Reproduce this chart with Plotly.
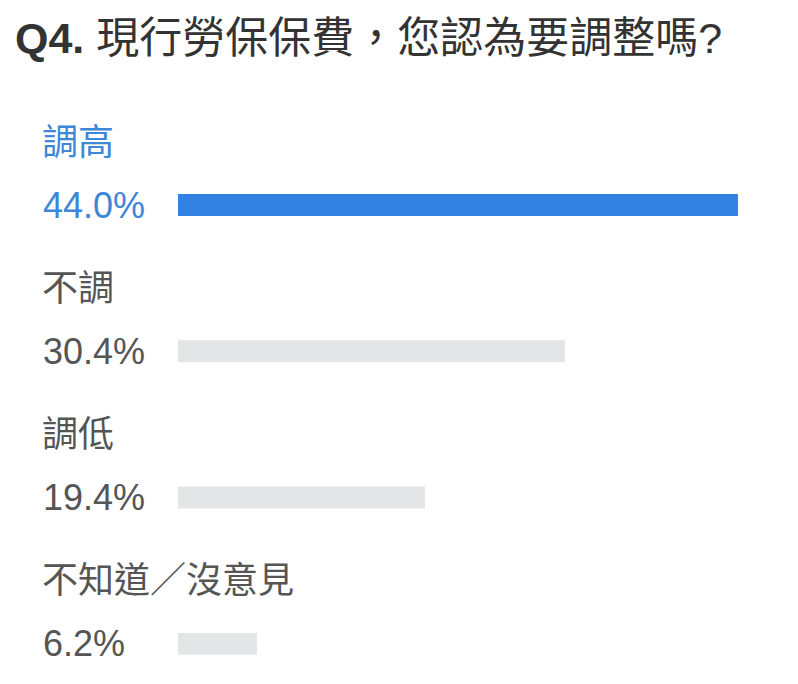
import plotly.graph_objects as go

# données du sondage
categories = ['調高', '不調', '調低', '不知道／沒意見']
values = [44.0, 30.4, 19.4, 6.2]
pct_labels = ['44.0%', '30.4%', '19.4%', '6.2%']
title_text = '<b>Q4.</b> 現行勞保保費，您認為要調整嗎?'

BLUE = '#3381e3'
BLUE_TXT = '#3d86d8'
GREY_BAR = '#e3e5e7'
GREY_TXT = '#555555'
FONT = 'Liberation Sans, Noto Sans CJK TC'

rows = list(range(len(categories)))
bar_colors = [BLUE if i == 0 else GREY_BAR for i in rows]
txt_colors = [BLUE_TXT if i == 0 else GREY_TXT for i in rows]

fig = go.Figure(go.Bar(
    x=values, y=rows, orientation='h',
    marker=dict(color=bar_colors, line=dict(width=0)),
    width=0.15, hoverinfo='skip'
))

# libellés au dessus des barres et pourcentages à gauche
for i in rows:
    fig.add_annotation(x=(32 - 170) / 560, xref='paper', y=i - 0.43, yref='y',
                       text=categories[i], showarrow=False, xanchor='left', yanchor='middle',
                       font=dict(family=FONT, size=36, color=txt_colors[i]))
    fig.add_annotation(x=(33 - 170) / 560, xref='paper', y=i, yref='y',
                       text=pct_labels[i], showarrow=False, xanchor='left', yanchor='middle',
                       font=dict(family=FONT, size=36, color=txt_colors[i]))

fig.add_annotation(x=(5 - 170) / 560, xref='paper', y=-1.141, yref='y',
                   text=title_text, showarrow=False, xanchor='left', yanchor='middle',
                   font=dict(family=FONT, size=43, color='#333333'))

fig.update_layout(
    width=798, height=684,
    margin=dict(l=170, r=68, t=0, b=0),
    paper_bgcolor='white', plot_bgcolor='white',
    showlegend=False,
    xaxis=dict(range=[0, 44], visible=False, fixedrange=True),
    yaxis=dict(range=[3.329, -1.347], visible=False, fixedrange=True),
)

fig.write_html('out.html')
